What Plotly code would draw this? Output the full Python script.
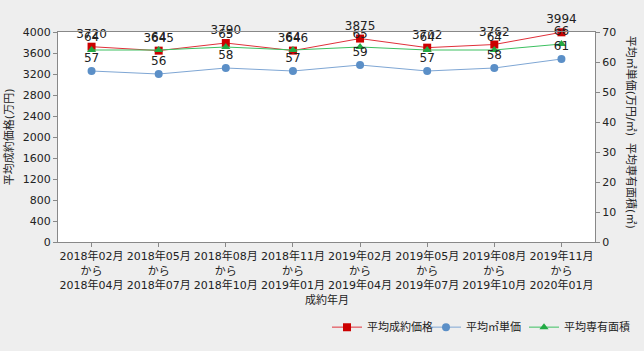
import plotly.graph_objects as go

categories = ["2018年02月<br>から<br>2018年04月", "2018年05月<br>から<br>2018年07月",
              "2018年08月<br>から<br>2018年10月", "2018年11月<br>から<br>2019年01月",
              "2019年02月<br>から<br>2019年04月", "2019年05月<br>から<br>2019年07月",
              "2019年08月<br>から<br>2019年10月", "2019年11月<br>から<br>2020年01月"]
avg_price = [3720, 3645, 3790, 3646, 3875, 3702, 3762, 3994]
unit_price = [57, 56, 58, 57, 59, 57, 58, 61]
avg_area = [64, 64, 65, 64, 65, 64, 64, 66]

FONT = "DejaVu Sans, Noto Sans CJK JP"
fig = go.Figure()
fig.add_trace(go.Scatter(x=categories, y=avg_area, name="平均専有面積", yaxis="y2",
                         mode="lines+markers+text", text=[str(v) for v in avg_area],
                         textposition="top center", textfont=dict(size=12, color="#222"),
                         line=dict(color="#3cc060", width=1), cliponaxis=False,
                         marker=dict(symbol="triangle-up", size=8, color="#22aa44"),
                         legend="legend3"))
fig.add_trace(go.Scatter(x=categories, y=unit_price, name="平均㎡単価", yaxis="y2",
                         mode="lines+markers+text", text=[str(v) for v in unit_price],
                         textposition="top center", textfont=dict(size=12, color="#222"),
                         line=dict(color="#7ea6d4", width=1), cliponaxis=False,
                         marker=dict(symbol="circle", size=8, color="#5b8fc7"),
                         legend="legend2"))
fig.add_trace(go.Scatter(x=categories, y=avg_price, name="平均成約価格",
                         mode="lines+markers+text", text=[str(v) for v in avg_price],
                         textposition="top center", textfont=dict(size=12, color="#222"),
                         line=dict(color="#e0303a", width=1), cliponaxis=False,
                         marker=dict(symbol="square", size=8, color="#cc0000"),
                         legend="legend"))

def leg(xpx):
    return dict(orientation="h", xref="container", yref="container",
                x=xpx / 644, xanchor="left", y=0.068, yanchor="middle",
                bgcolor="rgba(0,0,0,0)", font=dict(size=11), itemwidth=30)

fig.update_layout(
    width=644, height=351,
    margin=dict(l=58, r=49, t=32, b=109),
    paper_bgcolor="#eeeeee", plot_bgcolor="#ffffff",
    font=dict(family=FONT, size=11, color="#222"),
    showlegend=True,
    legend=leg(327), legend2=leg(426), legend3=leg(524),
    xaxis=dict(range=[-0.5, 7.5], showgrid=False, ticks="outside", ticklen=4,
               tickcolor="#888", showline=True, linecolor="#888", mirror=True,
               tickfont=dict(size=11), tickangle=0),
    yaxis=dict(range=[0, 4000], dtick=400, showgrid=False, ticks="outside", ticklen=4,
               tickcolor="#888", showline=True, linecolor="#888", mirror=True,
               tickfont=dict(size=11)),
    yaxis2=dict(range=[0, 70], dtick=10, overlaying="y", side="right", showgrid=False,
                ticks="outside", ticklen=4, tickcolor="#888", showline=False,
                tickfont=dict(size=11)),
    annotations=[
        dict(text="平均成約価格(万円)", xref="paper", yref="paper", x=-0.091, y=0.5,
             textangle=-90, showarrow=False, font=dict(size=11), xanchor="center", yanchor="middle"),
        dict(text="平均㎡単価(万円/㎡)  平均専有面積(㎡)", xref="paper", yref="paper", x=1.067, y=0.52,
             textangle=90, showarrow=False, font=dict(size=11), xanchor="center", yanchor="middle"),
        dict(text="成約年月", xref="paper", yref="paper", x=0.5, y=-0.232,
             showarrow=False, font=dict(size=11), xanchor="center", yanchor="top"),
    ],
)
fig.write_html("out.html")
